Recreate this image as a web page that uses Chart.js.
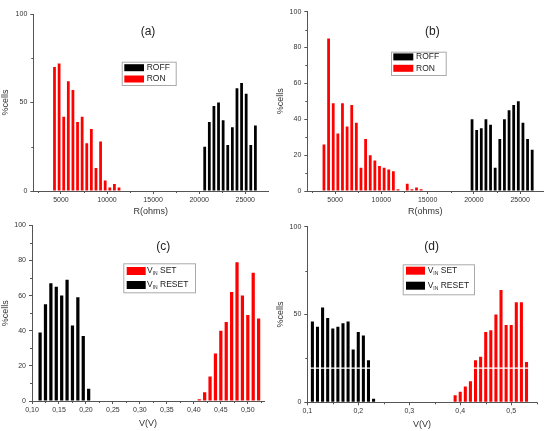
<!DOCTYPE html>
<html>
<head>
<meta charset="utf-8">
<script src="https://cdn.jsdelivr.net/npm/chart.js"></script>
<style>
  body { margin: 0; background: #fff; }
  #wrap { position: relative; width: 550px; height: 431px; overflow: hidden; }
  canvas { position: absolute; }
</style>
</head>
<body>
<div id="wrap">
  <canvas id="chartA" width="275" height="218" style="left:0;top:0"></canvas>
  <canvas id="chartB" width="275" height="218" style="left:275px;top:0"></canvas>
  <canvas id="chartC" width="275" height="216" style="left:0;top:215px"></canvas>
  <canvas id="chartD" width="275" height="216" style="left:275px;top:215px"></canvas>
</div>
<script>
// (a) resistance histograms
const ronA_R = [4300, 4800, 5300, 5800, 6300, 6800, 7300, 7800, 8300, 8800, 9300, 9800, 10300, 10800, 11300];
const ronA_pct = [70, 72, 42, 62, 57, 39, 42, 27, 35, 13, 28, 6, 2, 4, 2];
const roffA_R = [20600, 21100, 21600, 22100, 22600, 23100, 23600, 24100, 24600, 25100, 25600, 26100];
const roffA_pct = [25, 39, 48, 50, 40, 26, 36, 58, 61, 55, 26, 37];

// (b)
const ronB_R = [3800, 4300, 4800, 5300, 5800, 6300, 6800, 7300, 7800, 8300, 8800, 9300, 9800, 10300, 10800,
                11300, 11800, 12300, 12800, 13300, 13800, 14300];
const ronB_pct = [26, 85, 49, 32, 49, 36, 48, 38, 13, 29, 20, 17, 14, 13, 12, 11, 1, 0, 4, 1, 2, 1];
const roffB_R = [19800, 20300, 20800, 21300, 21800, 22300, 22800, 23300, 23800, 24300, 24800, 25300, 25800, 26300];
const roffB_pct = [40, 34, 35, 40, 37, 13, 29, 40, 45, 48, 50, 38, 29, 23];

// (c) voltage histograms
const resetC_V = [0.115, 0.125, 0.135, 0.145, 0.155, 0.165, 0.175, 0.185, 0.195, 0.205];
const resetC_pct = [39, 55, 67, 65, 60, 69, 43, 59, 37, 7];
const setC_V = [0.41, 0.42, 0.43, 0.44, 0.45, 0.46, 0.47, 0.48, 0.49, 0.50, 0.51, 0.52];
const setC_pct = [1, 5, 14, 27, 40, 45, 62, 79, 60, 49, 73, 47];

// (d)
const resetD_V = [0.11, 0.12, 0.13, 0.14, 0.15, 0.16, 0.17, 0.18, 0.19, 0.20, 0.21, 0.22, 0.23];
const resetD_pct = [46, 43, 54, 48, 42, 43, 45, 46, 30, 40, 38, 24, 2];
const setD_V = [0.39, 0.40, 0.41, 0.42, 0.43, 0.44, 0.45, 0.46, 0.47, 0.48, 0.49, 0.50, 0.51, 0.52, 0.53];
const setD_pct = [4, 6, 9, 12, 24, 26, 40, 41, 50, 64, 44, 44, 57, 57, 23];

// tick labels
const rTicks = [5000, 10000, 15000, 20000, 25000];
const rMinor = [2500, 7500, 12500, 17500, 22500];
const vTicksC = [0.10, 0.15, 0.20, 0.25, 0.30, 0.35, 0.40, 0.45, 0.50];
const vMinorC = [0.125, 0.175, 0.225, 0.275, 0.325, 0.375, 0.425, 0.475, 0.525];
const vTicksD = [0.1, 0.2, 0.3, 0.4, 0.5];
const vMinorD = [0.15, 0.25, 0.35, 0.45, 0.55];
const yTicks50 = [0, 50, 100];
const yMinor25 = [25, 75];
const yTicks20 = [0, 20, 40, 60, 80, 100];
const yMinor10 = [10, 30, 50, 70, 90];

const FONT = '"Liberation Sans", Arial, sans-serif';
const AXIS = '#555';
const RED = '#ff0000';
const BLACK = '#000000';

Chart.defaults.font.family = FONT;
Chart.defaults.color = '#333';

function drawLabel(ctx, text, x, y) {
  // "V_IN SET" -> V with subscript IN
  const m = text.match(/^(.*?)_(\S+)(.*)$/);
  ctx.textAlign = 'left';
  ctx.textBaseline = 'middle';
  ctx.font = '8.5px ' + FONT;
  if (!m) { ctx.fillText(text, x, y); return; }
  ctx.fillText(m[1], x, y);
  x += ctx.measureText(m[1]).width;
  ctx.font = '5px ' + FONT;
  ctx.fillText(m[2], x, y + 3);
  x += ctx.measureText(m[2]).width;
  ctx.font = '8.5px ' + FONT;
  ctx.fillText(m[3], x, y);
}

const decor = {
  id: 'decor',
  afterDatasetsDraw(chart, args, o) {
    if (o.whiteLine == null) return;
    const { ctx, chartArea: a } = chart;
    const py = chart.scales.y.getPixelForValue(o.whiteLine);
    ctx.save();
    ctx.strokeStyle = '#fff';
    ctx.lineWidth = 1.2;
    ctx.beginPath();
    ctx.moveTo(a.left + 3, py);
    ctx.lineTo(a.right, py);
    ctx.stroke();
    ctx.restore();
  },
  afterDraw(chart, args, o) {
    const { ctx, chartArea: a } = chart;
    const { x, y } = chart.scales;
    ctx.save();
    // minor ticks
    ctx.strokeStyle = AXIS;
    ctx.lineWidth = 1;
    ctx.beginPath();
    o.minorX.forEach(v => {
      const px = Math.round(x.getPixelForValue(v)) + 0.5;
      ctx.moveTo(px, a.bottom);
      ctx.lineTo(px, a.bottom + 2);
    });
    o.minorY.forEach(v => {
      const py = Math.round(y.getPixelForValue(v)) + 0.5;
      ctx.moveTo(a.left, py);
      ctx.lineTo(a.left - 2, py);
    });
    ctx.stroke();

    // panel tag
    ctx.fillStyle = '#222';
    ctx.font = '12px ' + FONT;
    ctx.textAlign = 'center';
    ctx.textBaseline = 'middle';
    ctx.fillText(o.tag, o.tagX, o.tagY);

    // legend box
    const L = o.legend;
    ctx.fillStyle = '#fff';
    ctx.fillRect(L.x, L.y, L.w, L.h);
    ctx.strokeStyle = '#aaa';
    ctx.strokeRect(L.x + 0.5, L.y + 0.5, L.w, L.h);
    L.order.forEach((di, k) => {
      const ds = chart.data.datasets[di];
      const cy = L.rows[k];
      ctx.fillStyle = ds.backgroundColor;
      ctx.fillRect(L.sx, cy - L.sh / 2, L.sw, L.sh);
      ctx.fillStyle = '#222';
      drawLabel(ctx, ds.label, L.tx, cy);
    });
    ctx.restore();
  }
};

function makePanel(id, p) {
  new Chart(document.getElementById(id), {
    type: 'bar',
    data: {
      datasets: p.series.map(s => ({
        label: s.label,
        data: s.x.map((v, i) => ({ x: v, y: s.y[i] })),
        backgroundColor: s.color,
        borderWidth: 0,
        barPercentage: 0.6,
        categoryPercentage: 1,
        grouped: false
      }))
    },
    options: {
      responsive: false,
      animation: false,
      layout: { padding: { left: 0, top: p.area.top, right: p.area.right, bottom: 0 } },
      plugins: {
        legend: { display: false },
        tooltip: { enabled: false },
        decor: p.decor
      },
      scales: {
        x: {
          type: 'linear',
          min: p.xMin,
          max: p.xMax,
          offset: false,
          afterBuildTicks: s => { s.ticks = p.xTicks.map(v => ({ value: v })); },
          afterFit: s => { s.height = p.area.xh; },
          ticks: { autoSkip: false, maxRotation: 0, padding: 2, font: { size: 7 }, color: '#333', callback: v => p.fmt(v) },
          grid: { drawOnChartArea: false, offset: false, tickLength: 3, tickColor: AXIS },
          border: { color: AXIS },
          title: { display: true, text: p.xTitle, font: { size: 9 }, color: '#333', padding: { top: 0, bottom: p.xTitlePad } }
        },
        y: {
          min: 0,
          max: 100,
          afterBuildTicks: s => { s.ticks = p.yTicks.map(v => ({ value: v })); },
          afterFit: s => { s.width = p.area.left; },
          ticks: { padding: 3, font: { size: 7 }, color: '#333' },
          grid: { drawOnChartArea: false, tickLength: 3, tickColor: AXIS },
          border: { color: AXIS },
          title: { display: true, text: '%cells', font: { size: 9 }, color: '#333', padding: { top: 0.5, bottom: 0 } }
        }
      }
    },
    plugins: [decor]
  });
}

makePanel('chartA', {
  series: [
    { label: 'ROFF', x: roffA_R, y: roffA_pct, color: BLACK },
    { label: 'RON', x: ronA_R, y: ronA_pct, color: RED }
  ],
  xMin: 2000, xMax: 27500, xTicks: rTicks, yTicks: yTicks50,
  fmt: v => String(v), xTitle: 'R(ohms)', xTitlePad: 1.5,
  area: { left: 33.3, top: 14, right: 6.7, xh: 27 },
  decor: {
    tag: '(a)', tagX: 148, tagY: 31.7, minorX: rMinor, minorY: yMinor25,
    legend: { x: 121.7, y: 61.7, w: 54, h: 23.3, sx: 124.3, sw: 19.7, sh: 7, tx: 146.7, rows: [67.7, 79], order: [0, 1] }
  }
});

makePanel('chartB', {
  series: [
    { label: 'ROFF', x: roffB_R, y: roffB_pct, color: BLACK },
    { label: 'RON', x: ronB_R, y: ronB_pct, color: RED }
  ],
  xMin: 2000, xMax: 27500, xTicks: rTicks, yTicks: yTicks20,
  fmt: v => String(v), xTitle: 'R(ohms)', xTitlePad: 1.5,
  area: { left: 32.3, top: 11.7, right: 6.7, xh: 27 },
  decor: {
    tag: '(b)', tagX: 157.3, tagY: 31.7, minorX: rMinor, minorY: yMinor10,
    legend: { x: 116, y: 51.7, w: 54.7, h: 23.3, sx: 118.3, sw: 20, sh: 7, tx: 141, rows: [56.9, 68.3], order: [0, 1] }
  }
});

makePanel('chartC', {
  series: [
    { label: 'V_IN SET', x: setC_V, y: setC_pct, color: RED },
    { label: 'V_IN RESET', x: resetC_V, y: resetC_pct, color: BLACK }
  ],
  xMin: 0.10, xMax: 0.53, xTicks: vTicksC, yTicks: yTicks20,
  fmt: v => v.toFixed(2).replace('.', ','), xTitle: 'V(V)', xTitlePad: 1.6,
  area: { left: 32, top: 10.3, right: 11, xh: 30 },
  decor: {
    tag: '(c)', tagX: 163.3, tagY: 31.7, minorX: vMinorC, minorY: yMinor10,
    legend: { x: 123.3, y: 48.3, w: 71.7, h: 29, sx: 126.7, sw: 19, sh: 8, tx: 147, rows: [56, 70], order: [0, 1] }
  }
});

makePanel('chartD', {
  series: [
    { label: 'V_IN SET', x: setD_V, y: setD_pct, color: RED },
    { label: 'V_IN RESET', x: resetD_V, y: resetD_pct, color: BLACK }
  ],
  xMin: 0.1, xMax: 0.55, xTicks: vTicksD, yTicks: yTicks50,
  fmt: v => v.toFixed(1).replace('.', ','), xTitle: 'V(V)', xTitlePad: 0.6,
  area: { left: 32.3, top: 11.7, right: 13.3, xh: 28.7 },
  decor: {
    tag: '(d)', tagX: 156.7, tagY: 31.7, minorX: vMinorD, minorY: yMinor25, whiteLine: 19.5,
    legend: { x: 127.7, y: 49.3, w: 71.3, h: 30, sx: 131, sw: 19, sh: 8, tx: 152.7, rows: [55.7, 70.7], order: [0, 1] }
  }
});
</script>
</body>
</html>
